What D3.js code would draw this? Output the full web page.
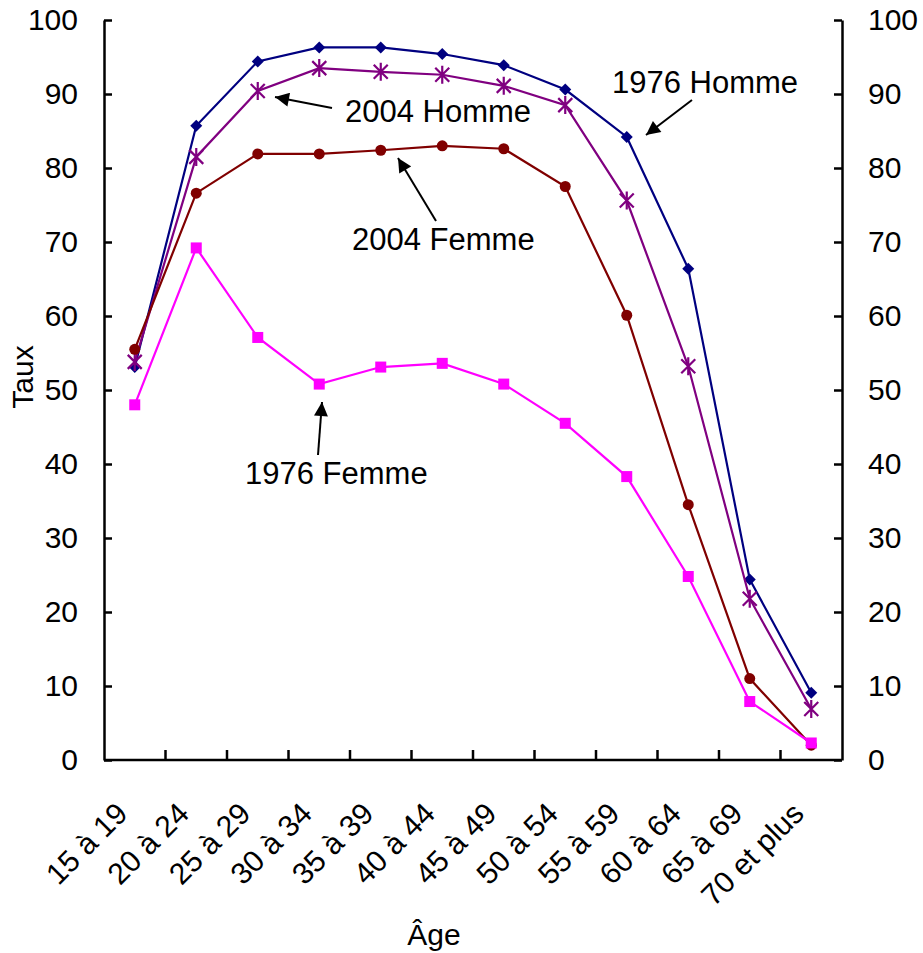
<!DOCTYPE html>
<html>
<head>
<meta charset="utf-8">
<script src="https://cdn.jsdelivr.net/npm/d3@7"></script>
<style>
  html, body { margin: 0; padding: 0; background: #fff; }
  svg { display: block; font-family: "Liberation Sans", Arial, sans-serif; }
</style>
</head>
<body>
<svg id="chart" width="923" height="953"></svg>
<script>
const categories = ["15 à 19","20 à 24","25 à 29","30 à 34","35 à 39","40 à 44","45 à 49","50 à 54","55 à 59","60 à 64","65 à 69","70 et plus"];
const homme1976 = [53.1, 85.7, 94.4, 96.3, 96.3, 95.4, 93.9, 90.6, 84.2, 66.4, 24.4, 9.1];
const homme2004 = [53.8, 81.5, 90.4, 93.5, 93.0, 92.6, 91.1, 88.5, 75.6, 53.2, 21.8, 6.9];
const femme2004 = [55.5, 76.6, 81.9, 81.9, 82.4, 83.0, 82.6, 77.5, 60.1, 34.5, 11.0, 2.0];
const femme1976 = [48.0, 69.2, 57.1, 50.8, 53.1, 53.6, 50.8, 45.5, 38.3, 24.8, 7.9, 2.3];
const yTicks = [0,10,20,30,40,50,60,70,80,90,100];

const series = [
  {name:"1976 Homme", values: homme1976, color:"#000080", marker:"diamond"},
  {name:"2004 Homme", values: homme2004, color:"#800080", marker:"star"},
  {name:"2004 Femme", values: femme2004, color:"#800000", marker:"circle"},
  {name:"1976 Femme", values: femme1976, color:"#FF00FF", marker:"square"}
];

const annotations = [
  {text:"2004 Homme", tx:345, ty:122, x1:332, y1:108, x2:275, y2:97},
  {text:"1976 Homme", tx:612, ty:93, x1:692, y1:100, x2:646, y2:135},
  {text:"2004 Femme", tx:352, ty:250, x1:436, y1:221, x2:398, y2:158},
  {text:"1976 Femme", tx:245, ty:484, x1:318, y1:455, x2:322, y2:402}
];

const svg = d3.select("#chart");
const L = 104, R = 842, T = 20, B = 760;

const x = d3.scaleBand().domain(categories).range([L, R]);
const y = d3.scaleLinear().domain([0, 100]).range([B, T]);

const FS = 30;

// Left axis
const gL = svg.append("g").attr("transform", `translate(${L},0)`)
  .call(d3.axisLeft(y).tickValues(yTicks).tickSizeInner(-8).tickSizeOuter(0).tickPadding(26));
// Right axis
const gR = svg.append("g").attr("transform", `translate(${R},0)`)
  .call(d3.axisRight(y).tickValues(yTicks).tickSizeInner(-8).tickSizeOuter(0).tickPadding(26));
[gL, gR].forEach(g => {
  g.select(".domain").attr("stroke", "#000").attr("stroke-width", 2.5);
  g.selectAll(".tick line").attr("stroke", "#000").attr("stroke-width", 2.5);
  g.selectAll(".tick text").attr("font-size", FS).attr("fill", "#000")
    .attr("font-family", "Liberation Sans, Arial, sans-serif");
});

// Bottom axis
const boundaries = categories.slice(1);
const gB = svg.append("g").attr("transform", `translate(0,${B})`);
gB.append("line").attr("x1", L).attr("x2", R).attr("y1", 0).attr("y2", 0)
  .attr("stroke", "#000").attr("stroke-width", 2.5);
gB.selectAll("line.tk").data(boundaries).join("line").attr("class", "tk")
  .attr("x1", d => x(d)).attr("x2", d => x(d)).attr("y1", 0).attr("y2", -10)
  .attr("stroke", "#000").attr("stroke-width", 2.5);
gB.selectAll("text.lab").data(categories).join("text").attr("class", "lab")
  .attr("transform", d => `translate(${x(d) + x.bandwidth()/2 - 13},${48}) rotate(-45)`)
  .attr("text-anchor", "end").attr("dy", "0.35em")
  .attr("font-size", FS).attr("fill", "#000")
  .text(d => d);

// Axis titles
svg.append("text").attr("transform", `translate(33,377) rotate(-90)`)
  .attr("text-anchor", "middle").attr("font-size", FS).text("Taux");
svg.append("text").attr("x", 434).attr("y", 945)
  .attr("text-anchor", "middle").attr("font-size", FS).text("Âge");

// Lines and markers
const line = d3.line().x((d, i) => x(categories[i]) + x.bandwidth()/2).y(d => y(d));
series.forEach(s => {
  const g = svg.append("g");
  g.append("path").datum(s.values).attr("d", line)
    .attr("fill", "none").attr("stroke", s.color).attr("stroke-width", 2.2);
  const pts = g.selectAll("g.m").data(s.values).join("g").attr("class", "m")
    .attr("transform", (d, i) => `translate(${x(categories[i]) + x.bandwidth()/2},${y(d)})`);
  if (s.marker === "diamond") {
    pts.append("path").attr("d", d3.symbol(d3.symbolSquare, 72)()).attr("transform", "rotate(45)")
      .attr("fill", s.color);
  } else if (s.marker === "circle") {
    pts.append("circle").attr("r", 5.5).attr("fill", s.color);
  } else if (s.marker === "square") {
    pts.append("rect").attr("x", -5.5).attr("y", -5.5).attr("width", 11).attr("height", 11).attr("fill", s.color);
  } else if (s.marker === "star") {
    pts.append("path").attr("d", "M-7,-7L7,7M-7,7L7,-7M0,-9L0,9")
      .attr("stroke", s.color).attr("stroke-width", 2.2).attr("fill", "none");
  }
});

// Annotations
const defs = svg.append("defs");
defs.append("marker").attr("id", "ah").attr("viewBox", "0 0 10 10")
  .attr("refX", 10).attr("refY", 5).attr("markerWidth", 8).attr("markerHeight", 7)
  .attr("markerUnits", "strokeWidth").attr("orient", "auto")
  .append("path").attr("d", "M0,0L10,5L0,10Z").attr("fill", "#000");
annotations.forEach(a => {
  svg.append("line").attr("x1", a.x1).attr("y1", a.y1).attr("x2", a.x2).attr("y2", a.y2)
    .attr("stroke", "#000").attr("stroke-width", 2).attr("marker-end", "url(#ah)");
  svg.append("text").attr("x", a.tx).attr("y", a.ty).attr("font-size", 31).attr("fill", "#000").text(a.text);
});
</script>
</body>
</html>
